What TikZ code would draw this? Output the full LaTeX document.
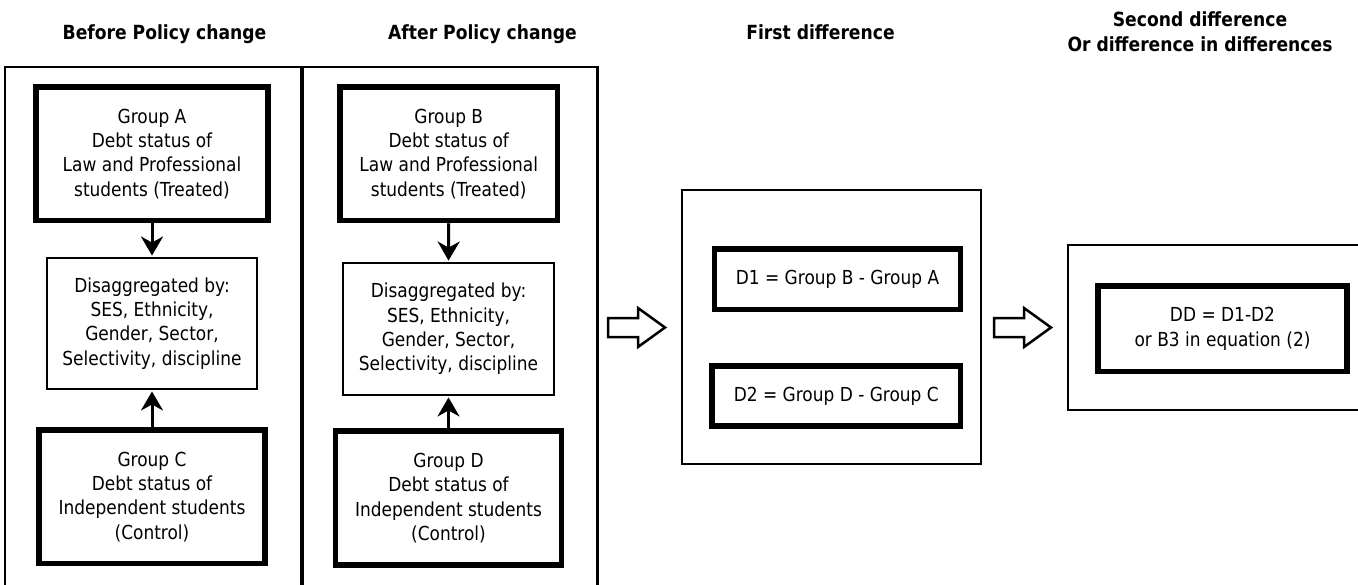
\documentclass[tikz,border=0pt]{standalone}
\usepackage{fontspec}
\setmainfont{DejaVu Sans}[FakeStretch=0.88]
\usetikzlibrary{arrows.meta}
\begin{document}
\begin{tikzpicture}[x=1pt,y=-1pt,
  body/.style={font=\fontsize{19.3}{24.3}\selectfont, align=center, inner sep=0pt},
  titletext/.style={font=\fontsize{19.5}{24.5}\selectfont\bfseries, align=center, inner sep=0pt},
  thickbox/.style={body, draw, line width=5.5pt},
  thinbox/.style={body, draw, line width=2.5pt},
  frame/.style={draw, line width=2.5pt, inner sep=0pt},
  flow/.style={line width=3pt, -{Stealth[length=19pt,width=22pt,inset=6pt]}, shorten >=1.2pt},
  hollowarrow/.pic={\draw[line width=2.5pt, line join=miter, fill=white]
      (0,-9.5) -- (30,-9.5) -- (30,-19.5) -- (57,0) -- (30,19.5) -- (30,9.5) -- (0,9.5) -- cycle;}
]
\useasboundingbox (0,0) rectangle (1358,584);

% titles
\node[titletext, anchor=base] (t1) at (164.5,39.5) {Before Policy change};
\node[titletext, anchor=base] (t2) at (482.5,39.5) {After Policy change};
\node[titletext, anchor=base] (t3) at (820.5,39.5) {First difference};
\node[titletext] (t4) at (1200,31.9) {Second difference\\Or difference in differences};

% left container (runs off the bottom edge)
\draw[line width=2.5pt] (5,588) |- (597.5,67) -- (597.5,588);
\draw[line width=4.5pt] (302,67) -- (302,588);

% before column
\node[thickbox, minimum width=232pt, minimum height=133.5pt] (A) at (152,153.75)
  {Group A\\Debt status of\\Law and Professional\\students (Treated)};
\node[thinbox, minimum width=210pt, minimum height=131pt] (disA) at (152,323.5)
  {Disaggregated by:\\SES, Ethnicity,\\Gender, Sector,\\Selectivity, discipline};
\node[thickbox, minimum width=226pt, minimum height=133.5pt] (C) at (152,496.75)
  {Group C\\Debt status of\\Independent students\\(Control)};

% after column
\node[thickbox, minimum width=217.5pt, minimum height=133.5pt] (B) at (448.75,153.75)
  {Group B\\Debt status of\\Law and Professional\\students (Treated)};
\node[thinbox, minimum width=211pt, minimum height=132pt] (disB) at (448.5,329)
  {Disaggregated by:\\SES, Ethnicity,\\Gender, Sector,\\Selectivity, discipline};
\node[thickbox, minimum width=226pt, minimum height=134pt] (D) at (448.5,498)
  {Group D\\Debt status of\\Independent students\\(Control)};

% vertical arrows
\draw[flow] (A.south) -- (disA.north);
\draw[flow] (C.north) -- (disA.south);
\draw[flow] (B.south) -- (disB.north);
\draw[flow] (D.north) -- (disB.south);

% hollow arrows
\pic at (608,327.5) {hollowarrow};
\pic at (994,327.5) {hollowarrow};

% first difference
\node[frame, minimum width=299pt, minimum height=274pt] (fd) at (831.5,327) {};
\node[thickbox, minimum width=246pt, minimum height=60.5pt] (d1) at (837.5,279.25)
  {D1 = Group B - Group A};
\node[thickbox, minimum width=248.5pt, minimum height=60pt] (d2) at (836.25,396)
  {D2 = Group D - Group C};

% second difference (frame runs off the right edge)
\draw[line width=2.5pt] (1361,245) -| (1068,410) -- (1361,410);
\node[thickbox, minimum width=249pt, minimum height=85.5pt] (dd) at (1222.5,328.75)
  {DD = D1-D2\\or B3 in equation (2)};
\end{tikzpicture}
\end{document}
